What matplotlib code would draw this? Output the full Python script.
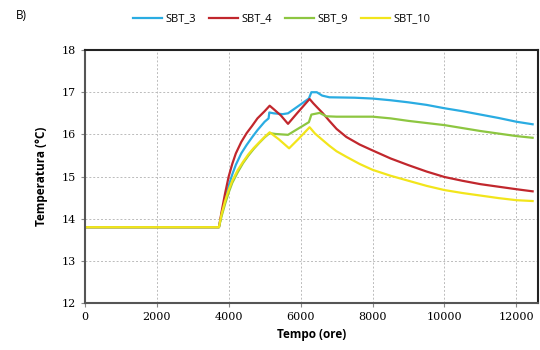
import matplotlib.pyplot as plt
import numpy as np

# SBT_3
t3 = [0, 3730, 3800, 3900, 4000, 4100, 4200, 4350, 4500, 4650, 4800, 5000, 5110, 5130,
      5250, 5500, 5650, 5900, 6230, 6300, 6450, 6600, 6800, 7500, 8000, 8500, 9000, 9500,
      10000, 10500, 11000, 11500, 12000, 12450]
v3 = [13.8, 13.8, 14.1, 14.45, 14.78, 15.05, 15.28, 15.55, 15.75, 15.93, 16.1, 16.3, 16.38, 16.52,
      16.5, 16.48, 16.5, 16.65, 16.85, 17.0, 17.0, 16.92, 16.88, 16.87, 16.85, 16.81, 16.76, 16.7,
      16.62, 16.55, 16.47, 16.39, 16.3, 16.24]

# SBT_4
t4 = [0, 3730, 3800, 3900, 4000, 4100, 4200, 4350, 4500, 4650, 4800, 5000, 5140, 5250,
      5450, 5650, 5900, 6250, 6350, 6450, 6620, 6800, 7000, 7270, 7640, 8000, 8500, 9000,
      9500, 10000, 10500, 11000, 11500, 12000, 12450]
v4 = [13.8, 13.8, 14.15, 14.6, 15.0, 15.3, 15.55, 15.82, 16.03, 16.2, 16.38, 16.55, 16.68, 16.6,
      16.45, 16.25, 16.5, 16.84, 16.74, 16.65, 16.5, 16.32, 16.13, 15.94, 15.76, 15.62, 15.43, 15.27,
      15.12, 14.99, 14.9, 14.82, 14.76, 14.7, 14.65]

# SBT_9
t9 = [0, 3730, 3800, 3900, 4000, 4100, 4250, 4400, 4550, 4700, 4850, 5000, 5140, 5300,
      5650, 5900, 6230, 6300, 6530, 6710, 7000, 8000, 8500, 9000, 9500, 10000, 10500, 11000,
      11500, 12000, 12450]
v9 = [13.8, 13.8, 14.05, 14.35, 14.62, 14.85, 15.1, 15.32, 15.5, 15.66, 15.8, 15.93, 16.03, 16.01,
      15.99, 16.12, 16.29, 16.47, 16.51, 16.43, 16.42, 16.42, 16.38, 16.32, 16.27, 16.22, 16.15, 16.08,
      16.02, 15.96, 15.92]

# SBT_10
t10 = [0, 3730, 3800, 3900, 4000, 4100, 4250, 4400, 4550, 4700, 4850, 5000, 5140, 5400,
       5680, 5950, 6250, 6400, 6620, 6800, 7000, 7270, 7640, 8000, 8500, 9000, 9500, 10000,
       10500, 11000, 11500, 12000, 12450]
v10 = [13.8, 13.8, 14.1, 14.42, 14.68, 14.9, 15.15, 15.35, 15.53, 15.68, 15.81, 15.94, 16.05, 15.88,
       15.67, 15.9, 16.17, 16.02, 15.86, 15.73, 15.6, 15.47, 15.3, 15.16, 15.02, 14.9, 14.78, 14.68,
       14.61, 14.55, 14.49, 14.44, 14.42]

series = [("SBT_3", t3, v3, "#2AACE2"),
          ("SBT_4", t4, v4, "#C1272D"),
          ("SBT_9", t9, v9, "#8DC641"),
          ("SBT_10", t10, v10, "#F2E51B")]

fig = plt.figure(figsize=(5.4, 3.5), dpi=100)
ax = fig.add_axes([0.157, 0.134, 0.84, 0.723])

for name, t, v, c in series:
    ax.plot(t, v, color=c, lw=1.6, label=name, solid_joinstyle="round")

ax.set_xlim(0, 12610)
ax.set_ylim(12, 18)
ax.set_xticks(np.arange(0, 12001, 2000))
ax.set_yticks(np.arange(12, 18.1, 1))
ax.grid(True, color="#BBBBBB", ls=(0, (2, 2)), lw=0.7)
ax.tick_params(labelsize=8, length=3, color="#888888")
for lab in ax.get_xticklabels() + ax.get_yticklabels():
    lab.set_family("DejaVu Serif")

for s in ax.spines.values():
    s.set_linewidth(1.5)
    s.set_color("#222222")
ax.spines["left"].set_color("#555555")
ax.spines["bottom"].set_color("#555555")

ax.set_xlabel("Tempo (ore)", fontsize=8.5, fontweight="bold", family="Open Sans", labelpad=4)
ax.set_ylabel("Temperatura (°C)", fontsize=8.5, fontweight="bold", family="Open Sans", labelpad=10)

fig.legend(loc="upper center", bbox_to_anchor=(0.522, 0.99), ncol=4, frameon=False,
           handlelength=2.6, handletextpad=0.3, columnspacing=1.2,
           prop={"family": "Open Sans", "size": 8})
fig.text(0.03, 0.945, "B)", fontsize=8.5, family="Open Sans")

fig.savefig("out.png", dpi=100)
